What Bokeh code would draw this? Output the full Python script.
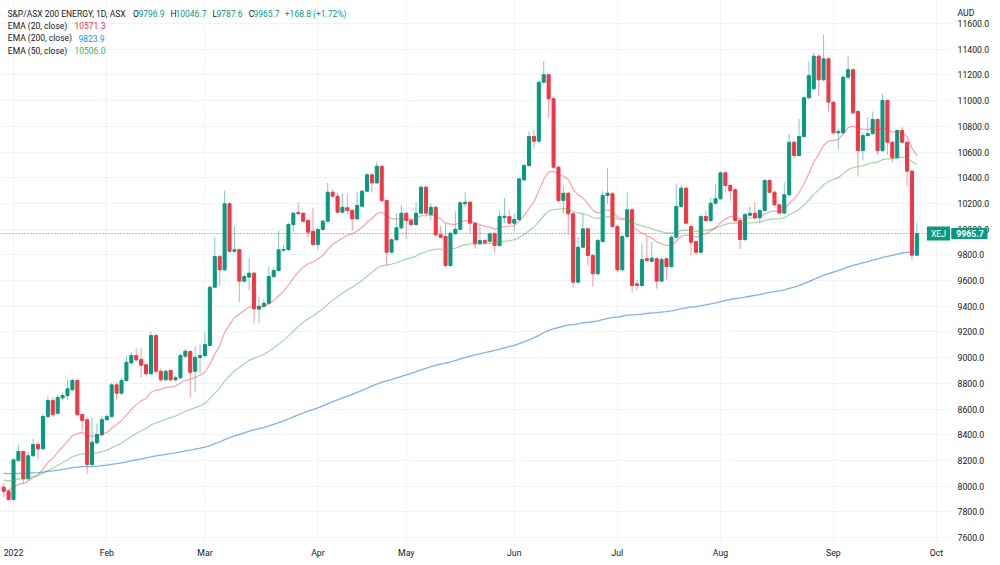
import numpy as np
import pandas as pd
from bokeh.plotting import figure
from bokeh.models import (Range1d, FixedTicker, Span, Label, NumeralTickFormatter,
                          ColumnDataSource, BoxAnnotation)
from bokeh.embed import file_html
from bokeh.resources import INLINE

# ---- S&P/ASX 200 Energy (XEJ), daily sessions 30 Dec 2021 .. 27 Sep 2022 ----
asx_holidays = ["2022-01-03", "2022-01-26", "2022-04-15", "2022-04-18",
                "2022-04-25", "2022-06-13", "2022-09-22"]

open_ = [7992, 7960, 7896, 8199, 8269, 8057, 8236, 8324, 8290, 8542, 8666, 8567, 8687, 8705, 8750,
         8822, 8557, 8516, 8168, 8337, 8399, 8516, 8542, 8788, 8723, 8822, 8959, 9016, 8985, 8944,
         8874, 9172, 8894, 8827, 8900, 8827, 8843, 9011, 9047, 8894, 9000, 9016, 9094, 9548, 9787,
         9683, 10197, 9828, 9841, 9595, 9626, 9657, 9377, 9400, 9423, 9631, 9678, 9836, 9841, 10036,
         10129, 10124, 10067, 9984, 9880, 9997, 10062, 10287, 10256, 10132, 10166, 10145, 10080, 10178, 10295,
         10423, 10360, 10488, 10223, 9820, 9917, 10010, 10124, 10067, 10036, 10124, 10326, 10113, 10170, 9956,
         9942, 9717, 9964, 9999, 10197, 10209, 10046, 9886, 9911, 9906, 9963, 9872, 10090, 10098, 10046,
         10075, 10383, 10495, 10721, 10684, 11143, 11201, 11014, 10482, 10223, 10279, 10119, 9587, 9859, 10002,
         9795, 9652, 9904, 10262, 10275, 10020, 9683, 9942, 10150, 9574, 9561, 9769, 9750, 9769, 9595,
         9769, 9709, 9937, 10176, 10318, 10020, 9903, 9820, 10098, 10067, 10202, 10236, 10438, 10339, 10306,
         10067, 9919, 10108, 10124, 10088, 10145, 10378, 10287, 10189, 10125, 10267, 10676, 10573, 10721, 11022,
         11092, 11346, 11162, 11325, 10988, 10749, 10749, 11182, 11240, 10915, 10612, 10728, 10742, 10853, 10612,
         11001, 10676, 10555, 10767, 10676, 10451, 9796.9]
high = [8023, 7974, 8215, 8324, 8277, 8269, 8368, 8339, 8565, 8697, 8690, 8713, 8728, 8830, 8837,
        8837, 8565, 8534, 8534, 8487, 8542, 8557, 8806, 8806, 8845, 9016, 9040, 9071, 9071, 8954,
        9203, 9188, 8915, 8905, 8910, 8860, 9030, 9065, 9060, 9086, 9100, 9198, 9561, 9937, 9800,
        10300, 10210, 10026, 9850, 9650, 9777, 9670, 9470, 9460, 9709, 9703, 9989, 9880, 10050, 10135,
        10209, 10130, 10075, 10166, 10010, 10075, 10360, 10310, 10280, 10282, 10275, 10155, 10287, 10305, 10435,
        10435, 10526, 10500, 10230, 9930, 10124, 10189, 10135, 10080, 10209, 10340, 10340, 10202, 10180, 10023,
        10046, 9980, 10139, 10215, 10287, 10220, 10055, 10028, 9925, 9975, 9975, 10145, 10241, 10150, 10119,
        10400, 10505, 10762, 10773, 11155, 11307, 11215, 11025, 10495, 10334, 10290, 10130, 9937, 10119, 10015,
        9805, 9925, 10295, 10472, 10290, 10030, 9955, 10287, 10160, 9605, 9890, 9942, 9898, 9780, 9780,
        9780, 9950, 10353, 10345, 10330, 10030, 9910, 10114, 10145, 10244, 10353, 10448, 10450, 10350, 10315,
        10075, 10125, 10176, 10209, 10155, 10390, 10390, 10300, 10195, 10365, 10742, 10690, 10858, 11035, 11304,
        11377, 11360, 11512, 11340, 11000, 10783, 11195, 11343, 11250, 10925, 10754, 10871, 10915, 10865, 11053,
        11010, 10690, 10780, 10793, 10690, 10460, 10046.7]
low = [7914, 7888, 7890, 8192, 8018, 8044, 8230, 8209, 8277, 8526, 8542, 8557, 8666, 8674, 8736,
       8542, 8433, 8096, 8153, 8324, 8386, 8511, 8535, 8674, 8713, 8814, 8946, 8970, 8845, 8861,
       8861, 8884, 8814, 8814, 8810, 8814, 8835, 9000, 8692, 8731, 8880, 9005, 9090, 9540, 9561,
       9675, 9815, 9815, 9431, 9585, 9522, 9268, 9268, 9390, 9410, 9620, 9670, 9825, 9830, 9974,
       10110, 10050, 9937, 9870, 9839, 9990, 10055, 10245, 10125, 10120, 10119, 9989, 10070, 10170, 10285,
       10287, 10350, 10210, 9717, 9810, 9910, 10000, 9925, 10025, 10025, 10115, 10110, 10067, 9940, 9925,
       9696, 9705, 9955, 9990, 10170, 9968, 9847, 9875, 9880, 9895, 9818, 9860, 10046, 10035, 9984,
       10065, 10375, 10485, 10625, 10675, 11135, 10866, 10470, 10209, 10121, 9963, 9548, 9575, 9850, 9717,
       9553, 9640, 9895, 10197, 10010, 9670, 9670, 9930, 9509, 9522, 9550, 9745, 9740, 9535, 9585,
       9606, 9700, 9925, 10165, 10035, 9795, 9802, 9810, 10055, 10055, 10190, 10225, 10287, 10217, 10055,
       9847, 9905, 10095, 10080, 10046, 10135, 10280, 10180, 10115, 10115, 10255, 10552, 10560, 10710, 11010,
       11080, 11034, 11150, 10915, 10735, 10625, 10740, 11170, 10890, 10412, 10534, 10720, 10735, 10578, 10600,
       10578, 10521, 10545, 10665, 10332, 9756, 9787.6]
close = [7960, 7896, 8205, 8269, 8057, 8236, 8324, 8290, 8542, 8666, 8557, 8690, 8705, 8757, 8822,
         8557, 8511, 8168, 8342, 8402, 8518, 8542, 8788, 8723, 8822, 8964, 9016, 8983, 8941, 8874,
         9172, 8894, 8827, 8894, 8827, 8843, 9016, 9050, 8886, 9003, 9016, 9102, 9548, 9787, 9683,
         10197, 9828, 9839, 9595, 9631, 9657, 9380, 9400, 9423, 9631, 9678, 9839, 9841, 10036, 10124,
         10119, 10062, 9976, 9880, 9997, 10062, 10287, 10256, 10132, 10170, 10145, 10080, 10184, 10295, 10423,
         10360, 10490, 10223, 9820, 9917, 10010, 10124, 10067, 10036, 10124, 10326, 10124, 10170, 9956, 9937,
         9717, 9968, 9999, 10205, 10209, 10046, 9886, 9911, 9893, 9963, 9872, 10098, 10100, 10046, 10075,
         10391, 10495, 10721, 10684, 11143, 11201, 11014, 10482, 10223, 10279, 10119, 9587, 9859, 10002, 9795,
         9652, 9911, 10262, 10279, 10020, 9683, 9942, 10150, 9561, 9561, 9763, 9756, 9774, 9595, 9763,
         9709, 9937, 10176, 10318, 10046, 9898, 9820, 10098, 10067, 10202, 10236, 10438, 10339, 10300, 10067,
         9919, 10114, 10124, 10088, 10145, 10378, 10287, 10189, 10125, 10267, 10676, 10573, 10721, 11022, 11195,
         11346, 11162, 11325, 10988, 10749, 10760, 11182, 11240, 10905, 10612, 10728, 10742, 10853, 10612, 11001,
         10676, 10555, 10767, 10676, 10451, 9796.9, 9965.7]

# EMA levels carried into the first session shown
ema_seed = {20: 7975, 50: 8050, 200: 8100}
ema_legend = {20: "10571.3", 200: "9823.9", 50: "10506.0"}

price_ticks = list(range(7600, 11601, 200))
month_labels = ["2022", "Feb", "Mar", "Apr", "May", "Jun", "Jul", "Aug", "Sep", "Oct"]

GREEN = "#089981"
RED = "#F23645"
TEXT = "#131722"
GRID = "#f0f3fa"
FONT = "Roboto"

# ---- session calendar (extended to the first October session for the axis) ----
cal = pd.bdate_range("2021-12-30", "2022-10-03")
cal = cal[~cal.isin(pd.to_datetime(asx_holidays))]
month_ticks = [i for i in range(1, len(cal)) if cal[i].month != cal[i - 1].month]

n = len(close)
x = np.arange(n)
o = np.array(open_, dtype=float)
h = np.array(high, dtype=float)
l = np.array(low, dtype=float)
c = np.array(close, dtype=float)
up = c >= o
colors = np.where(up, GREEN, RED)

src = ColumnDataSource(dict(x=x, o=o, h=h, l=l, c=c,
                            top=np.maximum(o, c), bottom=np.minimum(o, c), color=colors))


def ema(values, span, seed):
    a = 2.0 / (span + 1)
    out, e = [], seed
    for v in values:
        e = e + a * (v - e)
        out.append(e)
    return np.array(out)


# bar pitch in pixels and plot geometry
PITCH = 4.9096
FRAME_W, FRAME_H = 987, 541
PANE_RIGHT = 950          # price scale column starts here

p = figure(width=1000, height=565, output_backend="svg", toolbar_location=None,
           x_range=Range1d(2 - 13 / PITCH, 2 + (FRAME_W - 13) / PITCH),
           y_range=Range1d(7569, 11779),
           y_axis_location="right", title=None,
           min_border_left=0, min_border_top=0, min_border_right=1000 - FRAME_W,
           min_border_bottom=565 - FRAME_H)
p.outline_line_color = None
p.background_fill_color = "white"
p.border_fill_color = "white"

# axes
p.yaxis.ticker = FixedTicker(ticks=price_ticks)
p.yaxis.formatter = NumeralTickFormatter(format="0.0")
p.xaxis.ticker = FixedTicker(ticks=month_ticks)
p.xaxis.major_label_overrides = {int(t): lab for t, lab in zip(month_ticks, month_labels)}
for ax in (p.xaxis[0], p.yaxis[0]):
    ax.axis_line_color = None
    ax.major_tick_line_color = None
    ax.minor_tick_line_color = None
    ax.major_tick_in = 0
    ax.major_tick_out = 0
    ax.major_label_text_font = FONT
    ax.major_label_text_font_size = "8.7px"
    ax.major_label_text_color = TEXT
# price labels sit in the scale column to the right of the candle pane
p.yaxis.major_label_standoff = -(FRAME_W - PANE_RIGHT - 7)
p.xaxis.major_label_standoff = 6
p.xgrid.grid_line_color = GRID
p.ygrid.grid_line_color = GRID

# blank price-scale column (hides grid lines behind the price labels)
p.add_layout(BoxAnnotation(left=PANE_RIGHT, right=FRAME_W + 5, left_units="screen", right_units="screen",
                           fill_color="white", fill_alpha=1.0, line_color=None, level="underlay"))

# candles
p.segment(x0="x", y0="h", x1="x", y1="l", source=src, line_color="color", line_alpha=0.5, line_width=1)
p.vbar(x="x", width=0.62, top="top", bottom="bottom", source=src,
       fill_color="color", line_color="color", line_width=1)

# moving averages
p.line(x, ema(c, 20, ema_seed[20]), line_color=RED, line_alpha=0.45, line_width=1.2)
p.line(x, ema(c, 50, ema_seed[50]), line_color="#4CAF50", line_alpha=0.5, line_width=1.2)
p.line(x, ema(c, 200, ema_seed[200]), line_color="#2a7fe0", line_alpha=0.6, line_width=1.3)

# last price line
p.add_layout(Span(location=c[-1], dimension="width", line_color=GREEN,
                  line_dash="1 2", line_width=1, line_alpha=0.9))


def label(xs, yc, text, color=TEXT, size="8.5px", bold=False, align="left", bg=None, pad=0):
    kw = dict(x=xs, y=FRAME_H - yc, x_units="screen", y_units="screen", text=text,
              text_color=color, text_font=FONT, text_font_size=size,
              text_baseline="middle", text_align=align,
              text_font_style="bold" if bold else "normal")
    if bg is not None:
        kw.update(background_fill_color=bg, padding=pad)
    p.add_layout(Label(**kw))


# legend / header
label(7, 13.3, "S&P/ASX 200 ENERGY, 1D, ASX")
label(132.5, 13.3, "O")
label(138, 13.3, f"{o[-1]:.1f}", GREEN)
label(170, 13.3, "H")
label(175, 13.3, f"{h[-1]:.1f}", GREEN)
label(212, 13.3, "L")
label(216, 13.3, f"{l[-1]:.1f}", GREEN)
label(248.3, 13.3, "C")
label(253, 13.3, f"{c[-1]:.1f}", GREEN)
chg = c[-1] - o[-1]
label(284.3, 13.3, f"+{chg:.1f} (+{chg / o[-1] * 100:.2f}%)", GREEN)

label(7.3, 25.3, "EMA (20, close)")
label(74, 25.3, ema_legend[20], RED)
label(7.3, 37.7, "EMA (200, close)")
label(78, 37.7, ema_legend[200], "#2196F3")
label(7.3, 50.3, "EMA (50, close)")
label(74, 50.3, ema_legend[50], "#4CAF50")

# price scale caption and last-price tags
label(957, 12, "AUD", size="8.7px")
label(938, 233, "XEJ", "white", size="8.7px", align="center", bg=GREEN, pad=(4, 2))
label(969.5, 233, f"{c[-1]:.1f}", "white", size="8.7px", bold=True, align="center", bg=GREEN, pad=(5, 2))

open("out.html", "w").write(file_html(p, INLINE))
